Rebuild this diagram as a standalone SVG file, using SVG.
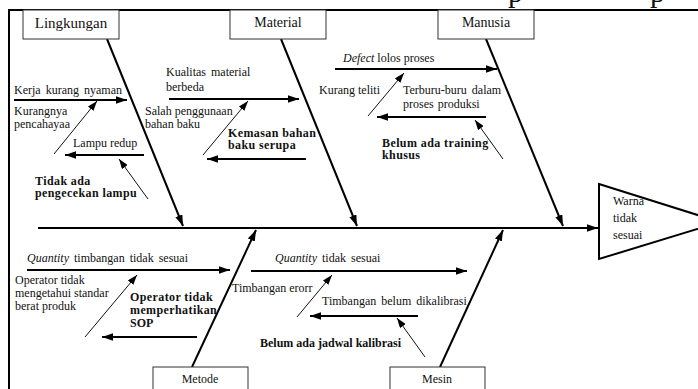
<svg xmlns="http://www.w3.org/2000/svg" width="698" height="389" viewBox="0 0 698 389">
<defs>
<style>
text{font-family:'Liberation Serif','DejaVu Serif',serif;font-size:12px;fill:#111}
.b{font-weight:bold}
.i{font-style:italic}
.ttl{font-size:14px}
.box{fill:#fff;stroke:#333;stroke-width:1}
.thick{stroke:#000;stroke-width:2;fill:none}
.thin{stroke:#111;stroke-width:1;fill:none}
.frame{stroke:#000;stroke-width:2;fill:none}
</style>
<marker id="ah" viewBox="0 0 11 7.5" refX="11" refY="3.75" markerWidth="11" markerHeight="7.5" markerUnits="userSpaceOnUse" orient="auto"><path d="M0,0 L11,3.75 L0,7.5 Z" fill="#000"/></marker>
<marker id="ahs" viewBox="0 0 10 7" refX="10" refY="3.5" markerWidth="10" markerHeight="7" markerUnits="userSpaceOnUse" orient="auto"><path d="M0,0 L10,3.5 L0,7 Z" fill="#000"/></marker>
</defs>
<rect width="698" height="389" fill="#fff"/>
<text x="508" y="2" font-family="Liberation Serif, serif" style="font-size:30px">p</text>
<text x="650" y="2" font-family="Liberation Serif, serif" style="font-size:30px">p</text>
<path class="frame" d="M9,389 V10 H698"/>

<g id="connectors">
<line class="thick" x1="38" y1="228" x2="598" y2="228" marker-end="url(#ah)"/>
<line class="thick" x1="107" y1="39" x2="183" y2="226" marker-end="url(#ah)"/>
<line class="thick" x1="281" y1="39" x2="357" y2="226" marker-end="url(#ah)"/>
<line class="thick" x1="486" y1="39" x2="563" y2="226" marker-end="url(#ah)"/>
<line class="thick" x1="192" y1="367" x2="256" y2="230" marker-end="url(#ah)"/>
<line class="thick" x1="440" y1="367" x2="503" y2="230" marker-end="url(#ah)"/>
<line class="thick" x1="14" y1="100" x2="127" y2="100" marker-end="url(#ah)"/>
<line class="thin" x1="54" y1="154" x2="97" y2="101" marker-end="url(#ahs)"/>
<line class="thick" x1="144" y1="155" x2="65" y2="155" marker-end="url(#ah)"/>
<line class="thin" x1="148" y1="199" x2="119" y2="159" marker-end="url(#ahs)"/>
<line class="thick" x1="169" y1="99" x2="299" y2="99" marker-end="url(#ah)"/>
<line class="thin" x1="203" y1="155" x2="248" y2="101" marker-end="url(#ahs)"/>
<line class="thick" x1="306" y1="159" x2="207" y2="159" marker-end="url(#ah)"/>
<line class="thick" x1="335" y1="69" x2="497" y2="69" marker-end="url(#ah)"/>
<line class="thin" x1="368" y1="116" x2="404" y2="73" marker-end="url(#ahs)"/>
<line class="thick" x1="486" y1="117" x2="377" y2="117" marker-end="url(#ah)"/>
<line class="thin" x1="503" y1="159" x2="475" y2="120" marker-end="url(#ahs)"/>
<line class="thick" x1="27" y1="270" x2="230" y2="270" marker-end="url(#ah)"/>
<line class="thin" x1="85" y1="337" x2="137" y2="275" marker-end="url(#ahs)"/>
<line class="thick" x1="197" y1="337" x2="102" y2="337" marker-end="url(#ah)"/>
<line class="thick" x1="251" y1="271" x2="467" y2="271" marker-end="url(#ah)"/>
<line class="thin" x1="297" y1="317" x2="332" y2="275" marker-end="url(#ahs)"/>
<line class="thick" x1="418" y1="316" x2="310" y2="316" marker-end="url(#ah)"/>
<line class="thin" x1="425" y1="357" x2="397" y2="318" marker-end="url(#ahs)"/>
</g>

<g id="lingkungan"><rect class="box" x="23" y="10" width="96" height="29"/><text x="71" y="28" text-anchor="middle" style="font-size:15px">Lingkungan</text></g>
<g id="material"><rect class="box" x="230" y="10" width="96" height="29"/><text x="278" y="27" text-anchor="middle" class="ttl">Material</text></g>
<g id="manusia"><rect class="box" x="438" y="10" width="96" height="29"/><text x="486" y="27" text-anchor="middle" class="ttl">Manusia</text></g>
<g id="metode"><rect class="box" x="153" y="367" width="95" height="30"/><text x="200" y="383" text-anchor="middle">Metode</text></g>
<g id="mesin"><rect class="box" x="390" y="367" width="95" height="30"/><text x="437" y="383" text-anchor="middle">Mesin</text></g>

<g id="effect"><polygon points="599,184 720,222 599,259" fill="#fff" stroke="#000" stroke-width="2"/>
<text x="613" y="205">Warna</text><text x="613" y="222">tidak</text><text x="613" y="239">sesuai</text></g>

<g id="c-kerja"><text x="14" y="94" word-spacing="2">Kerja kurang nyaman</text></g>
<g id="c-cahaya"><text x="14" y="115">Kurangnya</text><text x="14" y="128">pencahayaa</text></g>
<g id="c-lampu"><text x="73" y="147">Lampu redup</text></g>
<g id="c-cek"><text class="b" x="35" y="185" letter-spacing="0.4">Tidak ada</text><text class="b" x="35" y="197" letter-spacing="0.4">pengecekan lampu</text></g>
<g id="c-kualitas"><text x="166" y="76" word-spacing="2">Kualitas material</text><text x="166" y="91">berbeda</text></g>
<g id="c-salah"><text x="145" y="115">Salah penggunaan</text><text x="145" y="128">bahan baku</text></g>
<g id="c-kemasan"><text class="b" x="228" y="137" letter-spacing="0.4">Kemasan bahan</text><text class="b" x="228" y="149" letter-spacing="0.4">baku serupa</text></g>
<g id="c-defect"><text x="343" y="62"><tspan class="i">Defect</tspan> lolos proses</text></g>
<g id="c-teliti"><text x="319" y="94">Kurang teliti</text></g>
<g id="c-buru"><text x="403" y="94" word-spacing="2">Terburu-buru dalam</text><text x="403" y="108" word-spacing="1">proses produksi</text></g>
<g id="c-training"><text class="b" x="382" y="147" letter-spacing="0.4">Belum ada training</text><text class="b" x="382" y="159" letter-spacing="0.4">khusus</text></g>
<g id="c-qty1"><text x="27" y="262" word-spacing="2"><tspan class="i">Quantity</tspan> timbangan tidak sesuai</text></g>
<g id="c-opr1"><text x="15" y="284">Operator tidak</text><text x="15" y="297">mengetahui standar</text><text x="15" y="310">berat produk</text></g>
<g id="c-sop"><text class="b" x="130" y="301" letter-spacing="0.4">Operator tidak</text><text class="b" x="130" y="314" letter-spacing="0.4">memperhatikan</text><text class="b" x="130" y="327">SOP</text></g>
<g id="c-qty2"><text x="275" y="262" word-spacing="2"><tspan class="i">Quantity</tspan> tidak sesuai</text></g>
<g id="c-erorr"><text x="232" y="292">Timbangan erorr</text></g>
<g id="c-kalibrasi"><text x="322" y="305" word-spacing="2">Timbangan belum dikalibrasi</text></g>
<g id="c-jadwal"><text class="b" x="260" y="347">Belum ada jadwal kalibrasi</text></g>
</svg>
